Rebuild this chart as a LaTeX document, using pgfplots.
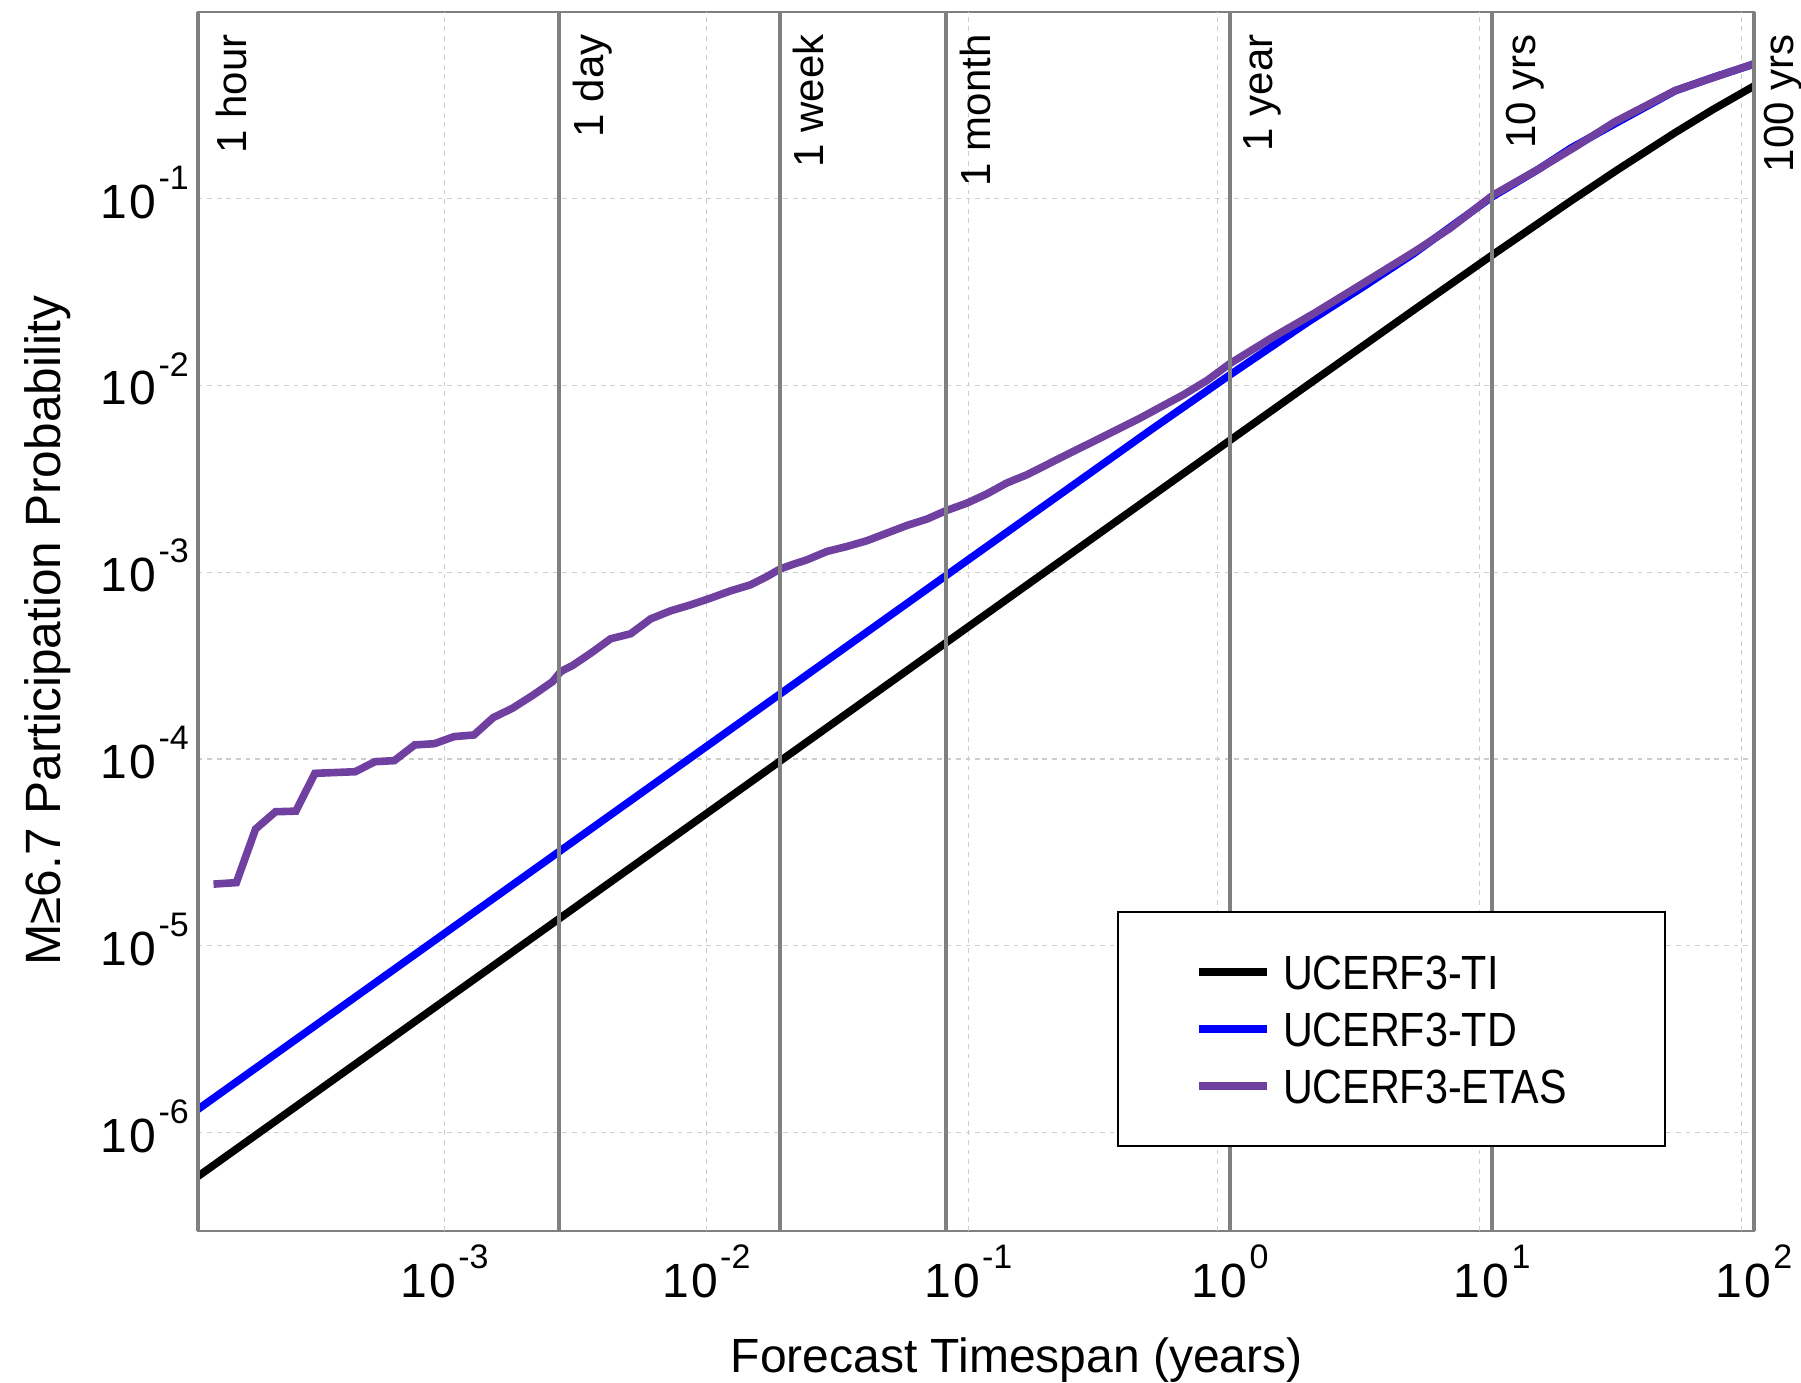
\documentclass[border=0pt]{standalone}
\usepackage{fontspec}
\setmainfont{Liberation Sans}
\newfontfamily\condfont{Liberation Sans}[FakeStretch=0.86]
\usepackage{pgfplots}
\pgfplotsset{compat=1.18}
\definecolor{etas}{RGB}{112,64,160}
\definecolor{vline}{RGB}{128,128,128}
\definecolor{gridc}{RGB}{205,205,205}
\newcommand{\tl}[1]{1\kern0.6pt0\kern0.5pt\raisebox{0.6em}{\fontsize{8.5}{9}\selectfont #1}}
\begin{document}
\begin{tikzpicture}
\begin{axis}[
  name=main,
  scale only axis,
  clip mode=individual,
  width=389.1pt, height=304.9pt,
  xmode=log, ymode=log,
  xmin=1.1408e-4, xmax=100,
  ymin=2.97e-7, ymax=1,
  xtick={1e-3,1e-2,1e-1,1,10,100},
  xticklabels={\tl{-3},\tl{-2},\tl{-1},\tl{0},\tl{1},\tl{2}},
  ytick={1e-6,1e-5,1e-4,1e-3,1e-2,1e-1},
  yticklabels={\tl{-6},\tl{-5},\tl{-4},\tl{-3},\tl{-2},\tl{-1}},
  major tick length=0pt, minor tick length=0pt,
  xmajorgrids=false, ymajorgrids=true,
  major grid style={gridc, line width=0.3pt, dash pattern=on 1.2pt off 1.2pt},
  axis line style={vline, line width=0.5pt},
  tick label style={font=\fontsize{12}{14}\selectfont},
  xticklabel style={inner sep=0pt, anchor=north, yshift=-3.2pt},
  yticklabel style={inner sep=0pt, anchor=base east, xshift=-2pt, yshift=-4.9pt},
  xlabel={Forecast Timespan (years)},
  ylabel={M≥6.7 Participation Probability},
  xlabel style={at={(axis description cs:0.5263,-0.116)}, anchor=base, inner sep=0pt, font=\fontsize{12}{14}\selectfont},
  ylabel style={at={(axis description cs:-0.112,0.4923)}, anchor=north, inner sep=0pt, font=\fontsize{12.4}{14}\selectfont},
  legend style={at={(axis description cs:0.5906,0.069)}, anchor=south west,
    draw=black, line width=0.5pt, inner xsep=19.3pt, inner ysep=10.65pt,
    row sep=5.7pt, column sep=3.1pt,
    nodes={inner sep=0pt, text height=8.6pt, text depth=0pt},
    font=\condfont\fontsize{12}{14}\selectfont},
  legend cell align=left,
  legend image code/.code={\draw[#1, line width=1.9pt] (0pt,0pt) -- (17pt,0pt);},
]
% vertical dashed grid (as placed in the original)
\draw[gridc, line width=0.3pt, dash pattern=on 1.2pt off 1.2pt] (axis cs:1e-3,2.97e-7) -- (axis cs:1e-3,1);
\draw[gridc, line width=0.3pt, dash pattern=on 1.2pt off 1.2pt] (axis cs:1e-2,2.97e-7) -- (axis cs:1e-2,1);
\draw[gridc, line width=0.3pt, dash pattern=on 1.2pt off 1.2pt] (axis cs:1e-1,2.97e-7) -- (axis cs:1e-1,1);
\draw[gridc, line width=0.3pt, dash pattern=on 1.2pt off 1.2pt] (axis cs:0.895,2.97e-7) -- (axis cs:0.895,1);
\draw[gridc, line width=0.3pt, dash pattern=on 1.2pt off 1.2pt] (axis cs:8.95,2.97e-7) -- (axis cs:8.95,1);
\draw[gridc, line width=0.3pt, dash pattern=on 1.2pt off 1.2pt] (axis cs:89.5,2.97e-7) -- (axis cs:89.5,1);
\addplot[black, line width=1.9pt] coordinates {
(1.1408e-4,5.818e-7) (1e-3,5.1e-6) (1e-2,5.1e-5) (1e-1,5.099e-4) (1,5.087e-3)
(2,1.0148e-2) (5,2.518e-2) (10,4.972e-2) (20,9.697e-2) (30,0.14187)
(50,0.22512) (70,0.30022) (100,0.3995)};
\addlegendentry{UCERF3-TI}
\addplot[blue, line width=1.9pt] coordinates {
(1.1408e-4,1.33e-6) (1e-3,1.166e-5) (1e-2,1.166e-4) (0.1,1.166e-3) (0.5,5.8e-3)
(1,1.14e-2) (2,2.2e-2) (3.15,3.3e-2) (5,5.05e-2) (10,0.102) (15,0.143)
(20,0.186) (30,0.255) (50,0.377) (70,0.445) (100,0.524)};
\addlegendentry{UCERF3-TD}
\addplot[etas, line width=1.9pt] coordinates {
(1.312e-4,2.14e-5) (1.604e-4,2.18e-5) (1.900e-4,4.22e-5) (2.263e-4,5.22e-5)
(2.706e-4,5.26e-5) (3.20e-4,8.38e-5) (4.56e-4,8.55e-5) (5.43e-4,9.68e-5)
(6.43e-4,9.80e-5) (7.69e-4,1.189e-4) (9.16e-4,1.208e-4) (1.088e-3,1.318e-4)
(1.296e-3,1.345e-4) (1.534e-3,1.665e-4) (1.816e-3,1.868e-4) (2.185e-3,2.203e-4)
(2.587e-3,2.596e-4) (2.78e-3,2.94e-4) (3.077e-3,3.16e-4) (3.615e-3,3.68e-4)
(4.31e-3,4.40e-4) (5.14e-3,4.68e-4) (6.12e-3,5.62e-4) (7.30e-3,6.21e-4)
(8.70e-3,6.68e-4) (1.037e-2,7.26e-4) (1.236e-2,7.94e-4) (1.473e-2,8.55e-4)
(1.705e-2,9.48e-4) (1.917e-2,1.042e-3) (2.155e-2,1.104e-3) (2.42e-2,1.164e-3)
(2.887e-2,1.291e-3) (3.44e-2,1.372e-3) (4.10e-2,1.473e-3) (4.89e-2,1.618e-3)
(5.83e-2,1.778e-3) (6.95e-2,1.923e-3) (8.20e-2,2.13e-3) (9.87e-2,2.34e-3)
(0.1176,2.62e-3) (0.1402,3.00e-3) (0.1674,3.32e-3) (0.2310,4.17e-3)
(0.3190,5.22e-3) (0.4532,6.68e-3) (0.6637,8.91e-3) (0.8145,1.06e-2)
(1.0,1.31e-2) (1.436,1.79e-2) (2.094,2.43e-2) (3.149,3.45e-2) (5.048,5.19e-2)
(6.911,6.92e-2) (10.08,0.1042) (15.17,0.1446) (20.77,0.1887) (29.35,0.2566)
(50.09,0.3787) (70.77,0.446) (100,0.5255)};
\addlegendentry{UCERF3-ETAS\rule{5.2pt}{0pt}}
% reference time lines
\draw[vline, line width=1pt] (axis cs:1.1408e-4,2.97e-7) -- (axis cs:1.1408e-4,1);
\draw[vline, line width=1pt] (axis cs:2.738e-3,2.97e-7) -- (axis cs:2.738e-3,1);
\draw[vline, line width=1pt] (axis cs:1.9165e-2,2.97e-7) -- (axis cs:1.9165e-2,1);
\draw[vline, line width=1pt] (axis cs:8.214e-2,2.97e-7) -- (axis cs:8.214e-2,1);
\draw[vline, line width=1pt] (axis cs:1,2.97e-7) -- (axis cs:1,1);
\draw[vline, line width=1pt] (axis cs:10,2.97e-7) -- (axis cs:10,1);
\draw[vline, line width=1pt] (axis cs:100,2.97e-7) -- (axis cs:100,1);
\tikzset{tlab/.style={rotate=90, anchor=north east, inner sep=0pt, font=\fontsize{10.5}{12}\selectfont}}
\node[tlab] at ([xshift=4.5pt, yshift=-5.5pt]axis cs:1.1408e-4,1) {1 hour};
\node[tlab] at ([xshift=3.4pt, yshift=-5.5pt]axis cs:2.738e-3,1) {1 day};
\node[tlab] at ([xshift=3.0pt, yshift=-5.5pt]axis cs:1.9165e-2,1) {1 week};
\node[tlab] at ([xshift=3.4pt, yshift=-5.5pt]axis cs:8.214e-2,1) {1 month};
\node[tlab] at ([xshift=3.2pt, yshift=-5.5pt]axis cs:1,1) {1 year};
\node[tlab] at ([xshift=3.2pt, yshift=-5.5pt]axis cs:10,1) {10 yrs};
\node[tlab] at ([xshift=2.3pt, yshift=-5.5pt]axis cs:100,1) {100 yrs};
\end{axis}
\pgfresetboundingbox
\path ([shift={(-49.4pt,-37.75pt)}]main.south west) rectangle ([shift={(11.75pt,2.9pt)}]main.north east);
\end{tikzpicture}
\end{document}
